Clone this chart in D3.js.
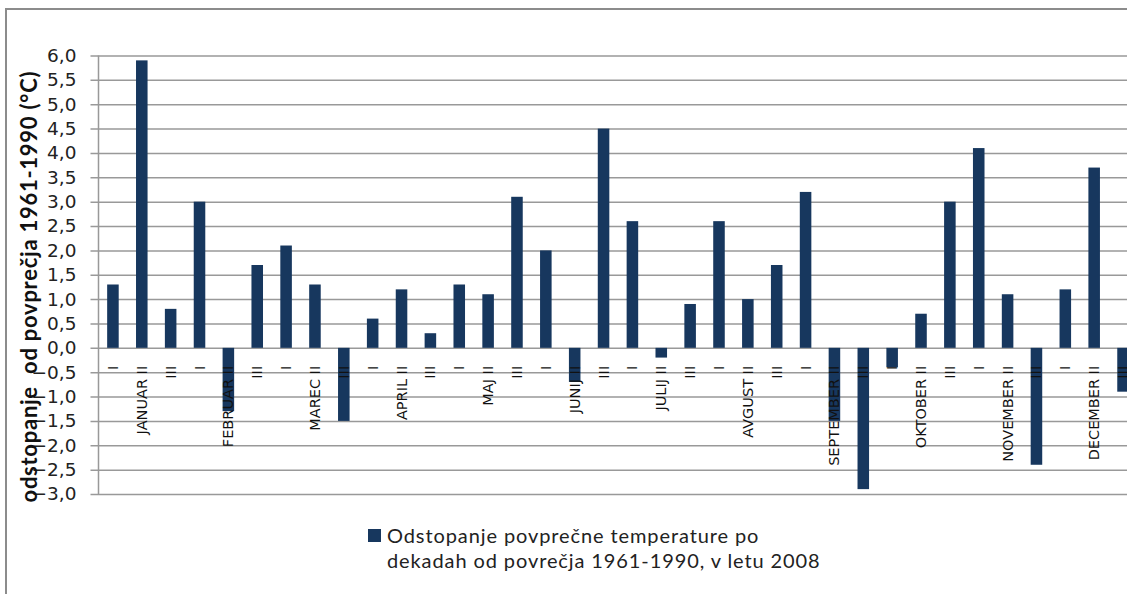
<!DOCTYPE html>
<html>
<head>
<meta charset="utf-8">
<script src="https://cdn.jsdelivr.net/npm/d3@7"></script>
<style>
  html, body { margin: 0; padding: 0; background: #fff; overflow: hidden; }
  svg { display: block; }
</style>
</head>
<body>
<svg id="chart" width="1127" height="594"></svg>
<script>
// Decade categories (three decades per month)
const months = ["JANUAR", "FEBRUAR", "MAREC", "APRIL", "MAJ", "JUNIJ",
                "JULIJ", "AVGUST", "SEPTEMBER", "OKTOBER", "NOVEMBER", "DECEMBER"];
const decades = ["I", "II", "III"];

// Deviation of mean decade temperature from the 1961-1990 average (°C), 2008
const deviations = [
  1.3, 5.9, 0.8,    // januar
  3.0, -1.3, 1.7,   // februar
  2.1, 1.3, -1.5,   // marec
  0.6, 1.2, 0.3,    // april
  1.3, 1.1, 3.1,    // maj
  2.0, -0.7, 4.5,   // junij
  2.6, -0.2, 0.9,   // julij
  2.6, 1.0, 1.7,    // avgust
  3.2, -1.5, -2.9,  // september
  -0.4, 0.7, 3.0,   // oktober
  4.1, 1.1, -2.4,   // november
  1.2, 3.7, -0.9    // december
];

const yTicks = [6, 5.5, 5, 4.5, 4, 3.5, 3, 2.5, 2, 1.5, 1, 0.5, 0, -0.5, -1, -1.5, -2, -2.5, -3];
const yTitle = "odstopanje  od povprečja 1961-1990 (°C)";
const legendLines = ["Odstopanje povprečne temperature po",
                     "dekadah od povrečja 1961-1990, v letu 2008"];

// Category labels: the middle decade carries the month name
const categories = [];
months.forEach(m => decades.forEach(d => categories.push(d === "II" ? m + " II" : d)));
const data = categories.map((c, i) => ({ key: i, label: c, value: deviations[i] }));

const svg = d3.select("#chart");
const barColor = "#17375E";
const gridColor = "#999999";

// Outer chart frame
svg.append("path")
  .attr("d", "M6,600 L6,9 L1140,9")
  .attr("fill", "none")
  .attr("stroke", "#8c8c8c")
  .attr("stroke-width", 2);

const plot = { left: 98.5, top: 55.5, bottom: 494, step: 28.86 };
const x = d3.scaleBand()
  .domain(data.map(d => d.key))
  .range([plot.left, plot.left + plot.step * data.length])
  .padding(0);
const y = d3.scaleLinear().domain([-3, 6]).range([plot.bottom, plot.top]);

// Horizontal gridlines with tick labels
const yAxis = d3.axisLeft(y)
  .tickValues(yTicks)
  .tickSize(-(1140 - plot.left))
  .tickSizeOuter(0)
  .tickPadding(22)
  .tickFormat(d => d3.format(".1f")(d).replace(".", ","));

const gy = svg.append("g")
  .attr("transform", `translate(${plot.left},0)`)
  .call(yAxis);
gy.select(".domain").remove();
gy.selectAll(".tick line")
  .attr("x1", -8)
  .attr("stroke", gridColor)
  .attr("stroke-width", 1.5);
gy.selectAll(".tick text")
  .attr("fill", "#222")
  .style("font-family", "'DejaVu Sans', sans-serif")
  .style("font-size", "18.5px");

// Vertical value axis line
svg.append("line")
  .attr("x1", plot.left).attr("x2", plot.left)
  .attr("y1", plot.top).attr("y2", plot.bottom)
  .attr("stroke", gridColor)
  .attr("stroke-width", 1.5);

// Bars
const barW = x.bandwidth() * 0.4;
svg.append("g").selectAll("rect")
  .data(data)
  .join("rect")
  .attr("x", d => x(d.key) + (x.bandwidth() - barW) / 2)
  .attr("width", barW)
  .attr("y", d => y(Math.max(0, d.value)))
  .attr("height", d => Math.abs(y(d.value) - y(0)))
  .attr("fill", barColor);

// Category labels, rotated, hanging below the zero line
const gx = svg.append("g");
gx.selectAll("text")
  .data(data)
  .join("text")
  .attr("transform", d => `translate(${x(d.key) + x.bandwidth() / 2},${y(0) + 18}) rotate(-90)`)
  .attr("text-anchor", "end")
  .attr("dominant-baseline", "central")
  .attr("fill", "#111")
  .style("font-family", "'DejaVu Sans', sans-serif")
  .style("font-size", "14.5px")
  .text(d => d.label);

// Value axis title
svg.append("text")
  .attr("transform", `translate(28,287) rotate(-90)`)
  .attr("text-anchor", "middle")
  .attr("dominant-baseline", "central")
  .attr("fill", "#111")
  .attr("textLength", 431)
  .attr("lengthAdjust", "spacing")
  .style("white-space", "pre")
  .style("font-family", "Lato, sans-serif")
  .style("font-weight", "bold")
  .style("font-size", "22px")
  .text(yTitle);

// Legend
const legend = svg.append("g");
legend.append("rect")
  .attr("x", 368).attr("y", 529)
  .attr("width", 13).attr("height", 13)
  .attr("fill", barColor);
legend.selectAll("text")
  .data(legendLines)
  .join("text")
  .attr("x", 387)
  .attr("y", (d, i) => 543 + i * 25)
  .attr("fill", "#222")
  .style("font-family", "Lato, sans-serif")
  .style("font-size", "20px")
  .style("letter-spacing", "0.9px")
  .text(d => d);
</script>
</body>
</html>
